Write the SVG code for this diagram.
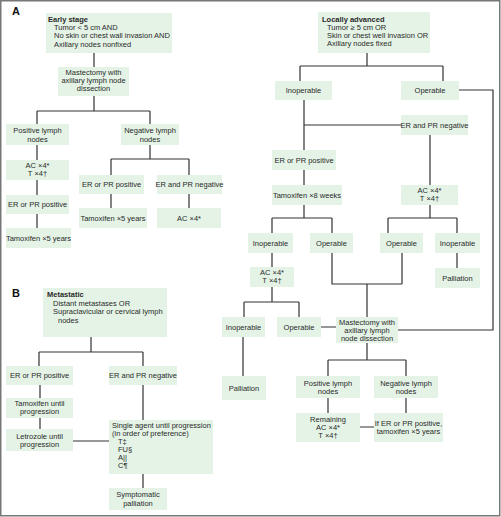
<svg xmlns="http://www.w3.org/2000/svg" width="501" height="517" viewBox="0 0 501 517">
<style>
.bx{fill:#e4f3e6}
.t{font-family:"Liberation Sans",Arial,sans-serif;font-size:7.5px;fill:#2a2a2a}
.c{text-anchor:middle}
.b{font-weight:bold}
.lbl{font-family:"Liberation Sans",Arial,sans-serif;font-size:11px;font-weight:bold;fill:#111}
.ln{fill:none;stroke:#333;stroke-width:1.2}
</style>
<rect x="0.75" y="0.75" width="499" height="515" fill="#fff" stroke="#777" stroke-width="1.5"/>
<text class="lbl" x="12" y="15">A</text>
<text class="lbl" x="12" y="297">B</text>

<g id="connectors" class="ln">
<path d="M94 53V67M94 96V111M37 111H150M37 111V124M150 111V124M37 145V160M37 180V195M37 214V228M150 145V159M111 159H189M111 159V175M189 159V175M111 194V208M189 194V208"/>
<path d="M367 53V66M300 66H443M300 66V81M443 66V81M459 90H493V330H398M304 100V150M304 125H401M430 135V185M304 170V185M304 205V218M272 218H332M272 218V233M332 218V233M430 205V218M388 218H457M388 218V233M457 218V233M457 253V268M272 253V267M272 287V302M244 302H299M244 302V317M299 302V317M321 327H336M332 253V284H402M402 253V284M367 284V317M243 337V376M367 343V360M328 360H406M328 360V376M406 360V376M328 398V413M406 398V413M360 427H374"/>
<path d="M91 337V352M39 352H143M39 352V366M143 352V366M40 385V398M40 418V429M73 441H109M143 385V420M143 474V488"/>
</g>

<g id="early"><rect class="bx" x="46" y="13" width="126" height="40"/>
<text class="t b" x="48" y="22">Early stage</text>
<text class="t" x="54" y="30">Tumor &lt; 5 cm AND</text>
<text class="t" x="54" y="38">No skin or chest wall invasion AND</text>
<text class="t" x="54" y="46.5">Axillary nodes nonfixed</text></g>
<g id="mast1"><rect class="bx" x="58" y="67" width="71" height="29"/>
<text class="t c" x="93.5" y="75">Mastectomy with</text>
<text class="t c" x="93.5" y="83">axillary lymph node</text>
<text class="t c" x="93.5" y="91">dissection</text></g>
<g id="pos1"><rect class="bx" x="6" y="124" width="63" height="21"/>
<text class="t c" x="37.5" y="133">Positive lymph</text>
<text class="t c" x="37.5" y="142">nodes</text></g>
<g id="neg1"><rect class="bx" x="121" y="124" width="58" height="21"/>
<text class="t c" x="150" y="133">Negative lymph</text>
<text class="t c" x="150" y="142">nodes</text></g>
<g id="ac1"><rect class="bx" x="6" y="160" width="63" height="20"/>
<text class="t c" x="37.5" y="167.5">AC ×4*</text>
<text class="t c" x="37.5" y="175.5">T ×4†</text></g>
<g id="erp1"><rect class="bx" x="6" y="195" width="63" height="19"/>
<text class="t c" x="37.5" y="206.5">ER or PR positive</text></g>
<g id="tam1"><rect class="bx" x="6" y="228" width="65" height="20"/>
<text class="t c" x="38.5" y="240.5">Tamoxifen ×5 years</text></g>
<g id="erp2"><rect class="bx" x="79" y="175" width="65" height="19"/>
<text class="t c" x="111.5" y="186.5">ER or PR positive</text></g>
<g id="ern1"><rect class="bx" x="157" y="175" width="65" height="19"/>
<text class="t c" x="189.5" y="186.5">ER and PR negative</text></g>
<g id="tam2"><rect class="bx" x="79" y="208" width="68" height="20"/>
<text class="t c" x="113" y="220.5">Tamoxifen ×5 years</text></g>
<g id="ac2"><rect class="bx" x="157" y="208" width="64" height="20"/>
<text class="t c" x="189" y="220.5">AC ×4*</text></g>

<g id="loc"><rect class="bx" x="318" y="12" width="112" height="41"/>
<text class="t b" x="322" y="22">Locally advanced</text>
<text class="t" x="327" y="30">Tumor ≥ 5 cm OR</text>
<text class="t" x="327" y="38">Skin or chest well invasion OR</text>
<text class="t" x="327" y="46">Axillary nodes fixed</text></g>
<g id="inop1"><rect class="bx" x="275" y="81" width="57" height="19"/>
<text class="t c" x="303.5" y="93">Inoperable</text></g>
<g id="op1"><rect class="bx" x="401" y="81" width="58" height="19"/>
<text class="t c" x="430" y="93">Operable</text></g>
<g id="ern2"><rect class="bx" x="401" y="115" width="67" height="20"/>
<text class="t c" x="434.5" y="127.5">ER and PR negative</text></g>
<g id="erp3"><rect class="bx" x="272" y="150" width="64" height="20"/>
<text class="t c" x="304" y="162.5">ER or PR positive</text></g>
<g id="tam3"><rect class="bx" x="272" y="185" width="70" height="20"/>
<text class="t c" x="307" y="197.5">Tamoxifen ×8 weeks</text></g>
<g id="ac3"><rect class="bx" x="401" y="185" width="57" height="20"/>
<text class="t c" x="429.5" y="193">AC ×4*</text>
<text class="t c" x="429.5" y="201">T ×4†</text></g>
<g id="inop2"><rect class="bx" x="248" y="233" width="45" height="20"/>
<text class="t c" x="270.5" y="245.5">Inoperable</text></g>
<g id="op2"><rect class="bx" x="310" y="233" width="43" height="20"/>
<text class="t c" x="331.5" y="245.5">Operable</text></g>
<g id="op3"><rect class="bx" x="380" y="233" width="43" height="20"/>
<text class="t c" x="401.5" y="245.5">Operable</text></g>
<g id="inop3"><rect class="bx" x="435" y="233" width="45" height="20"/>
<text class="t c" x="457.5" y="245.5">Inoperable</text></g>
<g id="pal1"><rect class="bx" x="435" y="268" width="45" height="20"/>
<text class="t c" x="457.5" y="280.5">Palliation</text></g>
<g id="ac4"><rect class="bx" x="250" y="267" width="44" height="20"/>
<text class="t c" x="272" y="275">AC ×4*</text>
<text class="t c" x="272" y="283">T ×4†</text></g>
<g id="inop4"><rect class="bx" x="222" y="317" width="43" height="20"/>
<text class="t c" x="243.5" y="329.5">Inoperable</text></g>
<g id="op4"><rect class="bx" x="277" y="317" width="44" height="20"/>
<text class="t c" x="299" y="329.5">Operable</text></g>
<g id="mast2"><rect class="bx" x="336" y="317" width="62" height="26"/>
<text class="t c" x="367" y="324.5">Mastectomy with</text>
<text class="t c" x="367" y="332.5">axillary lymph</text>
<text class="t c" x="367" y="340.5">node dissection</text></g>
<g id="pal2"><rect class="bx" x="222" y="376" width="44" height="24"/>
<text class="t c" x="244" y="391">Palliation</text></g>
<g id="pos2"><rect class="bx" x="296" y="376" width="64" height="22"/>
<text class="t c" x="328" y="385.5">Positive lymph</text>
<text class="t c" x="328" y="394">nodes</text></g>
<g id="neg2"><rect class="bx" x="374" y="376" width="64" height="22"/>
<text class="t c" x="406" y="385.5">Negative lymph</text>
<text class="t c" x="406" y="394">nodes</text></g>
<g id="rem"><rect class="bx" x="296" y="413" width="64" height="29"/>
<text class="t c" x="328" y="422">Remaining</text>
<text class="t c" x="328" y="430">AC ×4*</text>
<text class="t c" x="328" y="438">T ×4†</text></g>
<g id="ifer"><rect class="bx" x="374" y="413" width="69" height="29"/>
<text class="t c" x="408.5" y="426">If ER or PR positive,</text>
<text class="t c" x="408.5" y="434">tamoxifen ×5 years</text></g>

<g id="met"><rect class="bx" x="43" y="288" width="124" height="49"/>
<text class="t b" x="47" y="297">Metastatic</text>
<text class="t" x="53" y="305.5">Distant metastases OR</text>
<text class="t" x="53" y="314">Supraclavicular or cervical lymph</text>
<text class="t" x="58" y="322.5">nodes</text></g>
<g id="erp4"><rect class="bx" x="6" y="366" width="67" height="19"/>
<text class="t c" x="39.5" y="377.5">ER or PR positive</text></g>
<g id="ern3"><rect class="bx" x="109" y="366" width="68" height="19"/>
<text class="t c" x="143" y="377.5">ER and PR negative</text></g>
<g id="tam4"><rect class="bx" x="6" y="398" width="67" height="20"/>
<text class="t c" x="39.5" y="405.5">Tamoxifen until</text>
<text class="t c" x="39.5" y="414">progression</text></g>
<g id="let"><rect class="bx" x="6" y="429" width="67" height="22"/>
<text class="t c" x="39.5" y="438.5">Letrozole until</text>
<text class="t c" x="39.5" y="447">progression</text></g>
<g id="single"><rect class="bx" x="109" y="420" width="104" height="54"/>
<text class="t" x="112" y="427.5">Single agent until progression</text>
<text class="t" x="112" y="435.5">(in order of preference)</text>
<text class="t" x="118" y="444">T‡</text>
<text class="t" x="118" y="452">FU§</text>
<text class="t" x="118" y="460">A||</text>
<text class="t" x="118" y="468">C¶</text></g>
<g id="symp"><rect class="bx" x="109" y="488" width="58" height="22"/>
<text class="t c" x="138" y="497">Symptomatic</text>
<text class="t c" x="138" y="505.5">palliation</text></g>
</svg>
